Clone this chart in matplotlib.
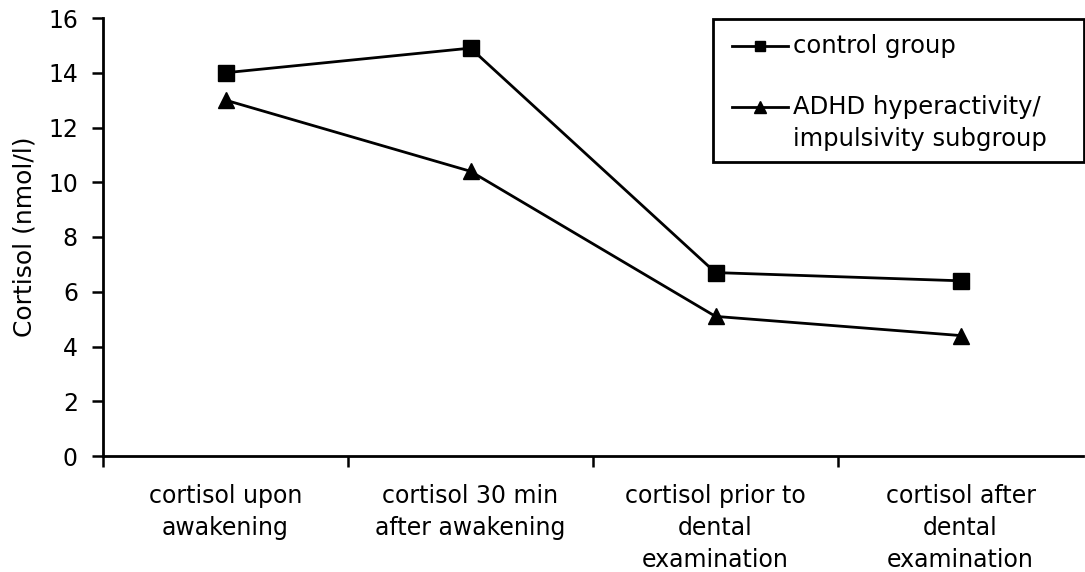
# Cortisol profile: control group vs ADHD hyperactivity/impulsivity subgroup

import matplotlib.pyplot as plt
from matplotlib.lines import Line2D
from matplotlib.patches import Rectangle

categories = ["cortisol upon\nawakening",
              "cortisol 30 min\nafter awakening",
              "cortisol prior to\ndental\nexamination",
              "cortisol after\ndental\nexamination"]
control = [14.0, 14.9, 6.7, 6.4]
adhd = [13.0, 10.4, 5.1, 4.4]
yticks = [0, 2, 4, 6, 8, 10, 12, 14, 16]

plt.rcParams['font.family'] = ['DejaVu Sans']
fs = 17

W, H = 1085, 572
fig = plt.figure(figsize=(W / 100, H / 100), dpi=100)
ax = fig.add_axes([103 / W, 1 - 456 / H, 980 / W, 438 / H])

x = list(range(len(categories)))
ax.plot(x, control, color="black", lw=2, marker="s", ms=11.5, mew=1, clip_on=False)
ax.plot(x, adhd, color="black", lw=2, marker="^", ms=11.5, mew=1, clip_on=False)

ax.set_xlim(-0.5, len(categories) - 0.5)
ax.set_ylim(0, 16)
ax.set_yticks(yticks)
ax.set_yticklabels([str(v) for v in yticks], fontsize=fs)

# boundary ticks (major, no labels) and centred labels (minor, no ticks)
ax.set_xticks([i - 0.5 for i in range(len(categories))])
ax.set_xticklabels([])
ax.set_xticks(x, minor=True)
ax.set_xticklabels(categories, minor=True, fontsize=fs, linespacing=1.42)
ax.tick_params(axis="x", which="major", direction="out", length=8, width=1.8)
ax.tick_params(axis="x", which="minor", length=0, pad=20)
ax.tick_params(axis="y", direction="out", length=8, width=1.8, pad=10)

for s in ["top", "right"]:
    ax.spines[s].set_visible(False)
for s in ["left", "bottom"]:
    ax.spines[s].set_linewidth(2)

fig.text(25 / W, 1 - 237 / H, "Cortisol (nmol/l)", rotation=90,
         ha="center", va="center", fontsize=fs + 1)

# legend box drawn by hand so the triangle sits on the first label line
def fx(px):
    return px / W

def fy(py):
    return 1 - py / H

fig.add_artist(Rectangle((fx(713), fy(162)), fx(1084) - fx(713), fy(19) - fy(162),
                         transform=fig.transFigure, fill=False, lw=2, ec="black"))
fig.add_artist(Line2D([fx(732), fx(788)], [fy(46), fy(46)], transform=fig.transFigure,
                      color="black", lw=2))
fig.add_artist(Line2D([fx(760)], [fy(46)], transform=fig.transFigure,
                      color="black", marker="s", ms=7, ls="none"))
fig.add_artist(Line2D([fx(732), fx(788)], [fy(107), fy(107)], transform=fig.transFigure,
                      color="black", lw=2))
fig.add_artist(Line2D([fx(760)], [fy(107)], transform=fig.transFigure,
                      color="black", marker="^", ms=8, ls="none"))
fig.text(fx(793), fy(46), "control group", fontsize=fs + 0.5, va="center")
fig.text(fx(793), fy(107), "ADHD hyperactivity/", fontsize=fs + 0.5, va="center")
fig.text(fx(793), fy(139), "impulsivity subgroup", fontsize=fs + 0.5, va="center")

fig.savefig("out.png", dpi=100)
